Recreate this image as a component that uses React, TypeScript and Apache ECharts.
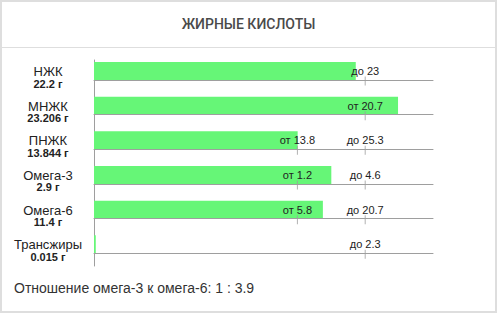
import React, { useEffect, useRef } from "react";
import * as echarts from "echarts";

const titleText = "ЖИРНЫЕ КИСЛОТЫ";
const names = ["НЖК", "МНЖК", "ПНЖК", "Омега-3", "Омега-6", "Трансжиры"];
const amounts = [22.2, 23.206, 13.844, 2.9, 11.4, 0.015];
const amountLabels = ["22.2 г", "23.206 г", "13.844 г", "2.9 г", "11.4 г", "0.015 г"];
const fromRefs: (number | null)[] = [null, 20.7, 13.8, 1.2, 5.8, null];
const toRefs: (number | null)[] = [23, null, 25.3, 4.6, 20.7, 2.3];
const ratioText = "Отношение омега-3 к омега-6: 1 : 3.9";

const FONT = "'Liberation Sans', Arial, sans-serif";
const GREEN = "#66f677";
const LINE = "#9e9e9e";

function norm(v: number, f: number | null, t: number | null): number {
  if (f != null && t != null) {
    return v <= f ? (v / f) * 0.75 : 0.75 + ((v - f) / (t - f)) * 0.25;
  }
  const r = (t ?? f) as number;
  return v / r;
}

function refTicks(f: number | null, t: number | null): number[] {
  return f != null && t != null ? [0.75, 1] : [1];
}

export default function App() {
  const ref = useRef<HTMLDivElement>(null);
  useEffect(() => {
    document.body.style.margin = "0";
    if (!ref.current) return;
    const chart = echarts.init(ref.current, null, { renderer: "svg" });
    const rowTop = 62;
    const rowStep = 34.66;
    const barH = 18;
    const grids: any[] = [];
    const xAxes: any[] = [];
    const yAxes: any[] = [];
    const series: any[] = [];
    names.forEach((name, i) => {
      const f = fromRefs[i];
      const t = toRefs[i];
      grids.push({ left: 94, width: 339, top: rowTop + rowStep * i, height: barH });
      xAxes.push({
        type: "value",
        gridIndex: i,
        min: 0,
        max: 1.25,
        z: 5,
        axisLine: { show: true, lineStyle: { color: LINE, width: 1 } },
        axisTick: { show: false },
        splitLine: { show: false },
        axisLabel: {
          show: true,
          inside: true,
          margin: 3,
          customValues: refTicks(f, t),
          color: "#222",
          fontSize: 11,
          lineHeight: 12,
          fontFamily: FONT,
          formatter: (v: number) => {
            if (Math.abs(v - 0.75) < 1e-6) return "от " + f;
            return t != null ? "до " + t : "от " + f;
          },
        },
      });
      yAxes.push({
        type: "category",
        gridIndex: i,
        data: [name],
        axisLine: { show: false },
        axisTick: { show: false },
        axisLabel: {
          show: true,
          align: "center",
          margin: 46,
          padding: [13, 0, 0, 0],
          formatter: () => `{n|${name}}\n{v|${amountLabels[i]}}`,
          rich: {
            n: { fontSize: 13, lineHeight: 12, color: "#222", fontFamily: FONT, align: "center" },
            v: { fontSize: 11, lineHeight: 12, fontWeight: "bold", color: "#222", fontFamily: FONT, align: "center" },
          },
        },
      });
      series.push({
        type: "bar",
        xAxisIndex: i,
        yAxisIndex: i,
        data: [norm(amounts[i], f, t)],
        barWidth: barH,
        itemStyle: { color: GREEN },
        silent: true,
      });
      series.push({
        type: "scatter",
        xAxisIndex: i,
        yAxisIndex: i,
        data: refTicks(f, t).map((x) => [x, 0]),
        symbol: "rect",
        symbolSize: [1, 9],
        symbolOffset: [0, 10],
        itemStyle: { color: LINE },
        silent: true,
      });
    });
    // vertical axis line spanning all rows
    grids.push({ left: 94, width: 339, top: 60, height: 206 });
    xAxes.push({ type: "value", gridIndex: 6, show: false });
    yAxes.push({
      type: "value",
      gridIndex: 6,
      axisLine: { show: true, lineStyle: { color: LINE, width: 1 } },
      axisTick: { show: false },
      axisLabel: { show: false },
      splitLine: { show: false },
    });

    chart.setOption({
      animation: false,
      backgroundColor: "#ffffff",
      title: [
        {
          text: titleText,
          left: "center",
          top: 17,
          padding: 0,
          textStyle: { fontSize: 14, fontWeight: 500, color: "#4a4a4a", fontFamily: "Roboto, 'Liberation Sans', sans-serif" },
        },
        {
          text: ratioText,
          left: 14,
          top: 281,
          padding: 0,
          textStyle: { fontSize: 14, fontWeight: "normal", color: "#333", fontFamily: FONT },
        },
      ],
      graphic: [
        {
          type: "rect",
          shape: { x: 1, y: 1, width: 495, height: 311 },
          style: { fill: "none", stroke: "#dedede", lineWidth: 2 },
          silent: true,
        },
        {
          type: "line",
          shape: { x1: 2, y1: 47.5, x2: 495, y2: 47.5 },
          style: { stroke: "#dedede", lineWidth: 1 },
          silent: true,
        },
      ],
      grid: grids,
      xAxis: xAxes,
      yAxis: yAxes,
      series,
    });
    return () => chart.dispose();
  }, []);
  return <div ref={ref} style={{ width: 497, height: 313 }} />;
}
